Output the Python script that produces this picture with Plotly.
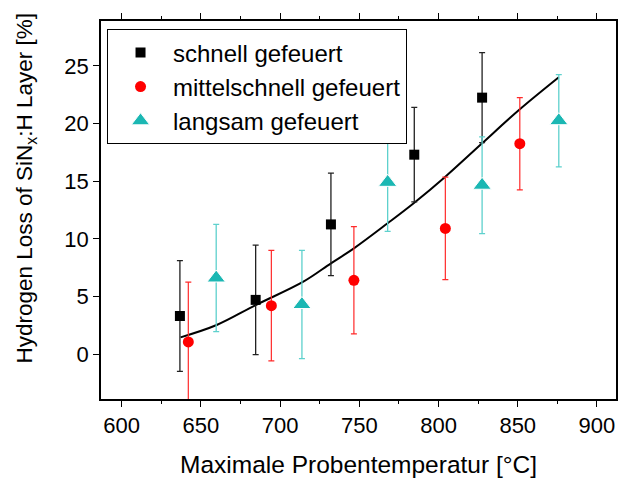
import plotly.graph_objects as go

# Measured hydrogen loss for three firing speeds
temp_fast = [636.8, 684.6, 732.1, 784.7, 827.5]
loss_fast = [3.3, 4.7, 11.25, 17.3, 22.25]
err_fast = [4.8, 4.75, 4.45, 4.1, 3.9]

temp_medium = [642.1, 694.5, 746.6, 804.3, 851.3]
loss_medium = [1.05, 4.2, 6.4, 10.9, 18.25]
err_medium = [5.2, 4.8, 4.65, 4.45, 4.0]

temp_slow = [659.7, 713.8, 767.9, 827.5, 875.9]
loss_slow = [6.6, 4.3, 14.9, 14.65, 20.25]
err_slow = [4.65, 4.7, 4.25, 4.2, 4.0]

# Fitted trend line
fit_temp = [637.2, 660.0, 684.6, 714.7, 732.1, 746.6, 767.9, 784.7, 804.3, 827.5, 851.3, 875.9]
fit_loss = [1.45, 2.52, 4.25, 6.28, 7.87, 9.17, 11.35, 13.13, 15.39, 18.29, 21.24, 24.02]

x_ticks = [600, 650, 700, 750, 800, 850, 900]
y_ticks = [0, 5, 10, 15, 20, 25]

FONT = "Liberation Sans, Arial, sans-serif"
CYAN = "#1BB7B3"

fig = go.Figure()

fig.add_trace(go.Scatter(
    x=fit_temp, y=fit_loss, mode="lines", line=dict(color="black", width=2, shape="spline"),
    showlegend=False, hoverinfo="skip"))

fig.add_trace(go.Scatter(
    x=temp_fast, y=loss_fast, mode="markers", name="schnell gefeuert",
    marker=dict(symbol="square", size=10, color="black"),
    error_y=dict(type="data", array=err_fast, color="#222222", thickness=1.3, width=3)))

fig.add_trace(go.Scatter(
    x=temp_medium, y=loss_medium, mode="markers", name="mittelschnell gefeuert",
    marker=dict(symbol="circle", size=11, color="#FF0000"),
    error_y=dict(type="data", array=err_medium, color="#FF2A2A", thickness=1.2, width=3)))

fig.add_trace(go.Scatter(
    x=temp_slow, y=loss_slow, mode="markers", name="langsam gefeuert",
    marker=dict(symbol="triangle-up", size=16, color=CYAN, line=dict(color="white", width=1)),
    error_y=dict(type="data", array=err_slow, color="#5ED1CD", thickness=1.3, width=3)))

axis_common = dict(
    showline=True, linecolor="black", linewidth=1.5, mirror="ticks",
    ticks="outside", ticklen=6, tickwidth=1.3, tickcolor="black",
    showgrid=False, zeroline=False, automargin=False,
    tickfont=dict(family=FONT, size=22, color="black"),
)

fig.update_xaxes(
    range=[587, 912], tickvals=x_ticks,
    minor=dict(ticks="outside", ticklen=3.5, tickwidth=1.3, tickcolor="black", dtick=25, tick0=600, showgrid=False),
    **axis_common)
fig.update_yaxes(range=[-3.9, 28.9], tickvals=y_ticks, **axis_common)

fig.add_annotation(
    text="Maximale Probentemperatur [°C]", xref="paper", yref="paper",
    x=0.5, y=-0.1746, xanchor="center", yanchor="middle", showarrow=False,
    font=dict(family=FONT, size=24.5, color="black"))
fig.add_annotation(
    text="Hydrogen Loss of SiN<sub>x</sub>:H Layer [%]", xref="paper", yref="paper",
    x=-0.1447, y=0.558, xanchor="center", yanchor="middle", textangle=-90, showarrow=False,
    font=dict(family=FONT, size=22.5, color="black"))

fig.update_layout(
    width=618, height=480,
    margin=dict(l=101, r=2, t=21, b=81, autoexpand=False),
    paper_bgcolor="white", plot_bgcolor="white",
    font=dict(family=FONT, color="black"),
    legend=dict(
        x=0.0117, y=0.978, xanchor="left", yanchor="top",
        bordercolor="black", borderwidth=1, bgcolor="white",
        font=dict(family=FONT, size=24, color="black"),
        itemwidth=55, tracegroupgap=0),
)

fig.write_html("out.html")
